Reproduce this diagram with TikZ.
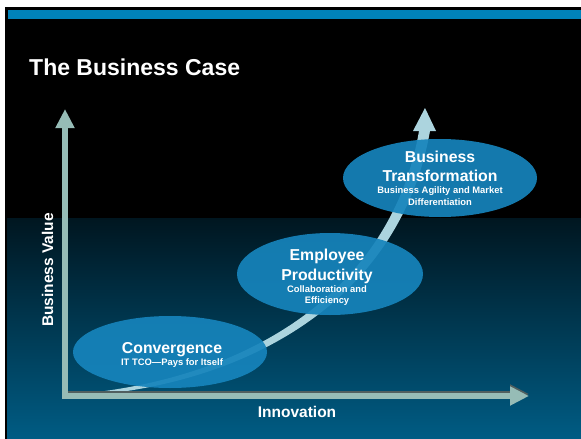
\documentclass[tikz,border=0pt]{standalone}
\usepackage{fontspec}
\setmainfont{Liberation Sans}
\usetikzlibrary{shapes.geometric,arrows.meta,positioning}
\definecolor{slideblue}{RGB}{0,130,185}
\definecolor{tealtop}{RGB}{0,22,32}
\definecolor{teallow}{RGB}{0,92,132}
\definecolor{axisgray}{RGB}{150,188,182}
\definecolor{axisdark}{RGB}{80,95,95}
\definecolor{curveblue}{RGB}{172,212,222}
\definecolor{stageblue}{RGB}{22,132,188}

\begin{document}
\begin{tikzpicture}[x=1pt,y=-1pt,
	stage/.style={ellipse, fill=stageblue, fill opacity=0.92, inner sep=0pt},
	bigtxt/.style={text=white, font=\fontsize{15.8}{18}\selectfont\bfseries, anchor=base, inner sep=0pt},
	smalltxt/.style={text=white, font=\fontsize{9.4}{11}\selectfont\bfseries, anchor=base, inner sep=0pt},
	axis/.style={line width=6pt, draw=axisgray, -{Triangle[width=18pt,length=19pt]}}]
	\useasboundingbox (0,0) rectangle (581,439);
	
	%Fundo do slide
	\fill[white] (0,0) rectangle (581,439);
	\fill[black] (5,7) rectangle (581,439);
	\fill[slideblue] (8,10) rectangle (581,19);
	\shade[top color=tealtop, bottom color=teallow] (7,218) rectangle (581,439);
	
	\node[anchor=base west, text=white, font=\fontsize{23}{27}\selectfont\bfseries, inner sep=0pt] (title) at (29,75) {The Business Case};
	
	%Curva de crescimento
	\fill[curveblue] (66,397) .. controls (244,389) and (400,302) .. (430,131) -- (419,131) .. controls (390,298) and (238,383) .. (66,395) -- cycle;
	\fill[curveblue] (413,131) -- (425,108) -- (436,131) -- cycle;
	
	%Etapas
	\node[stage, minimum width=194pt, minimum height=72pt] (conv) at (170,352) {};
	\node[stage, minimum width=186pt, minimum height=82pt] (prod) at (330,274) {};
	\node[stage, minimum width=194pt, minimum height=78pt] (trans) at (440,178) {};
	
	\node[bigtxt] (convname) at (172,353) {Convergence};
	\node[smalltxt] (convsub) at (172,365) {IT TCO\textemdash Pays for Itself};
	
	\node[bigtxt] (prodname) at (327,260) {Employee};
	\node[bigtxt] (prodname2) at (327,280) {Productivity};
	\node[smalltxt] (prodsub) at (327,292) {Collaboration and};
	\node[smalltxt] (prodsub2) at (327,303) {Efficiency};
	
	\node[bigtxt] (transname) at (440,162) {Business};
	\node[bigtxt] (transname2) at (440,181) {Transformation};
	\node[smalltxt] (transsub) at (440,193) {Business Agility and Market};
	\node[smalltxt] (transsub2) at (440,205) {Differentiation};
	
	%Eixos
	\coordinate (origin) at (65,399);
	\coordinate (xstart) at (62,396);
	\coordinate (ytip) at (65,109);
	\coordinate (xtip) at (529,396);
	\draw[axis, draw=axisdark] ([yshift=2pt]xstart) -- ([yshift=2pt]xtip);
	\draw[axis] (xstart) -- (xtip);
	\draw[axis] (origin) -- (ytip);
	
	\node[rotate=90, text=white, font=\fontsize{15.5}{18}\selectfont\bfseries, inner sep=0pt] (yname) at (47.5,270) {Business Value};
	\node[anchor=base, text=white, font=\fontsize{15.5}{18}\selectfont\bfseries, inner sep=0pt] (xname) at (297,417) {Innovation};
\end{tikzpicture}
\end{document}
